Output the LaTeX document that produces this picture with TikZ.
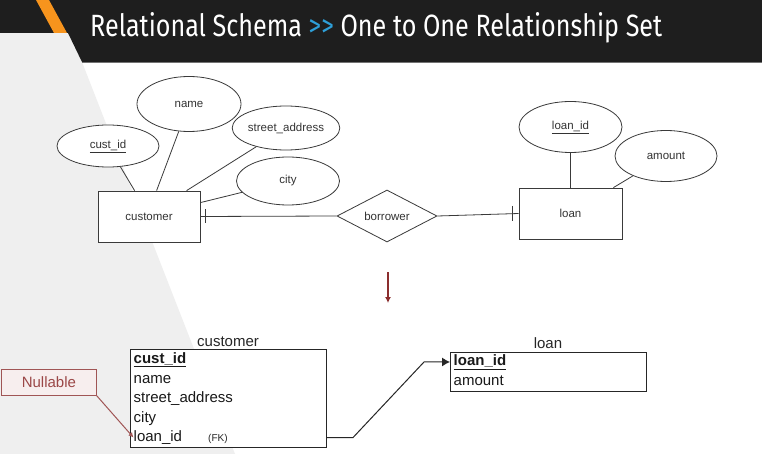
\documentclass[tikz,border=0pt]{standalone}
\usepackage{graphicx}
\usepackage{fontspec}
\setmainfont{Liberation Sans}
\newfontfamily\titlefont{Fira Sans}
\usetikzlibrary{shapes.geometric,arrows.meta,calc}
\definecolor{banner}{HTML}{1E1E1E}
\definecolor{stripe}{HTML}{F7941D}
\definecolor{tblue}{HTML}{2E9FD8}
\definecolor{leftgray}{HTML}{EFEFEF}
\definecolor{erline}{HTML}{3A3A3A}
\definecolor{darkred}{HTML}{8B2E2E}
\definecolor{nullred}{HTML}{A05555}
\definecolor{nulltext}{HTML}{9B4747}
\definecolor{nullfill}{HTML}{F7EEEE}
\tikzset{
  erattr/.style={ellipse, draw=erline, line width=0.8pt, fill=white, inner sep=0pt,
    font=\fontsize{11.5}{13}\selectfont, text=black!80},
  erentity/.style={rectangle, draw=erline, line width=0.8pt, fill=white,
    minimum width=102pt, minimum height=51pt, inner sep=0pt,
    font=\fontsize{11.5}{13}\selectfont, text=black!80},
  errel/.style={diamond, draw=erline, line width=0.8pt, fill=white, aspect=1.9,
    minimum width=100pt, minimum height=52pt, inner sep=0pt,
    font=\fontsize{11.5}{13}\selectfont, text=black!80},
  erlink/.style={draw=erline, line width=0.8pt},
  tabbox/.style={rectangle, draw=black!85, line width=1pt, fill=white, anchor=north west, inner sep=0pt},
  tabrow/.style={anchor=base west, inner sep=0pt, font=\fontsize{15}{17}\selectfont, text=black!90},
  tabtitle/.style={anchor=base, inner sep=0pt, font=\fontsize{15}{17}\selectfont, text=black!85},
}
\begin{document}
\begin{tikzpicture}[x=1pt,y=-1pt]
\useasboundingbox (0,0) rectangle (762,454);
\fill[white] (0,0) rectangle (762,454);
% background shapes
\fill[leftgray] (0,33) -- (70,33) -- (82,62) -- (235,454) -- (0,454) -- cycle;
\fill[banner] (0,0) -- (762,0) -- (762,62) -- (82,62) -- (68,33) -- (0,33) -- cycle;
\fill[stripe] (36,0) -- (49,0) -- (67,33) -- (54,33) -- cycle;
\draw[black!55, line width=1pt] (82,62.5) -- (762,62.5);
\node[anchor=base west, inner sep=0pt, text=white] (title) at (90,37)
  {\resizebox{572pt}{24pt}{\titlefont Relational Schema {\color{tblue}>>} One to One Relationship Set}};

% ER diagram
\node[erentity] (customer) at (149,216.5) {customer};
\node[erattr, minimum width=102pt, minimum height=42pt] (custid) at (108,146) {\underline{cust\_id}};
\node[erattr, minimum width=104pt, minimum height=55pt] (name) at (189,104) {name};
\node[erattr, minimum width=103pt, minimum height=44pt] (street) at (286,128) {street\_address};
\node[erattr, minimum width=103pt, minimum height=48pt] (city) at (288,181) {city};
\node[errel] (borrower) at (387,216) {borrower};
\node[erentity, minimum width=103pt] (loan) at (570.5,213.5) {loan};
\node[erattr, minimum width=103pt, minimum height=51pt] (loanid) at (570.5,127) {\underline{loan\_id}};
\node[erattr, minimum width=102pt, minimum height=51pt] (amount) at (666,156) {amount};

\draw[erlink] (custid) -- ($(customer.north west)+(37,0)$);
\draw[erlink] (name) -- ($(customer.north west)+(59,0)$);
\draw[erlink] (street) -- ($(customer.north west)+(89,0)$);
\draw[erlink] (city) -- ($(customer.north east)+(0,12)$);
\draw[erlink] (loanid) -- (loan.north);
\draw[erlink] (amount) -- ($(loan.north east)+(-9,0)$);
\draw[erlink] (customer.east) -- (borrower.west);
\draw[erlink] ($(customer.east)+(5,-7)$) -- ++(0,14);
\draw[erlink] (borrower.east) -- (loan.west);
\draw[erlink] ($(loan.west)+(-6,-7.5)$) -- ++(0,15);

% transformation arrow
\coordinate (arrtop) at (388,272);
\coordinate (arrbot) at (388,303);
\draw[darkred, line width=1.6pt, -{Latex[length=6pt,width=6pt]}] (arrtop) -- (arrbot);

% relational tables
\node[tabtitle] (ctitle) at (228,346) {customer};
\node[tabbox, minimum width=196pt, minimum height=98pt] (ctab) at (130,349) {};
\node[tabrow] (crow1) at (133.5,363) {\textbf{\underline{cust\_id}}};
\node[tabrow] (crow2) at (133.5,383) {name};
\node[tabrow] (crow3) at (133.5,402.5) {street\_address};
\node[tabrow] (crow4) at (133.5,422) {city};
\node[tabrow] (crow5) at (133.5,441.5) {loan\_id};
\node[anchor=base west, inner sep=0pt, font=\fontsize{10}{12}\selectfont, text=black!85] (fk) at (208,441) {(FK)};

\node[tabtitle] (ltitle) at (548,348) {loan};
\node[tabbox, minimum width=196pt, minimum height=39pt] (ltab) at (450,352) {};
\node[tabrow] (lrow1) at (453.5,365.5) {\textbf{\underline{loan\_id}}};
\node[tabrow] (lrow2) at (453.5,385) {amount};

\draw[black!85, line width=1pt, -{Latex[length=8pt,width=9pt]}]
  (ctab.east |- crow5) -- ++(26,0) -- ($(ltab.west |- lrow1)+(-26,0)$) -- (ltab.west |- lrow1);

% nullable annotation
\node[rectangle, draw=nullred, line width=0.8pt, fill=nullfill, anchor=north west,
  minimum width=95pt, minimum height=26pt, inner sep=0pt,
  font=\fontsize{15}{17}\selectfont, text=nulltext] (nullable) at (1,369) {Nullable};
\draw[nullred, line width=1pt, -{Latex[length=5pt,width=5pt]}] (nullable.south east) -- (crow5.west);
\end{tikzpicture}
\end{document}
